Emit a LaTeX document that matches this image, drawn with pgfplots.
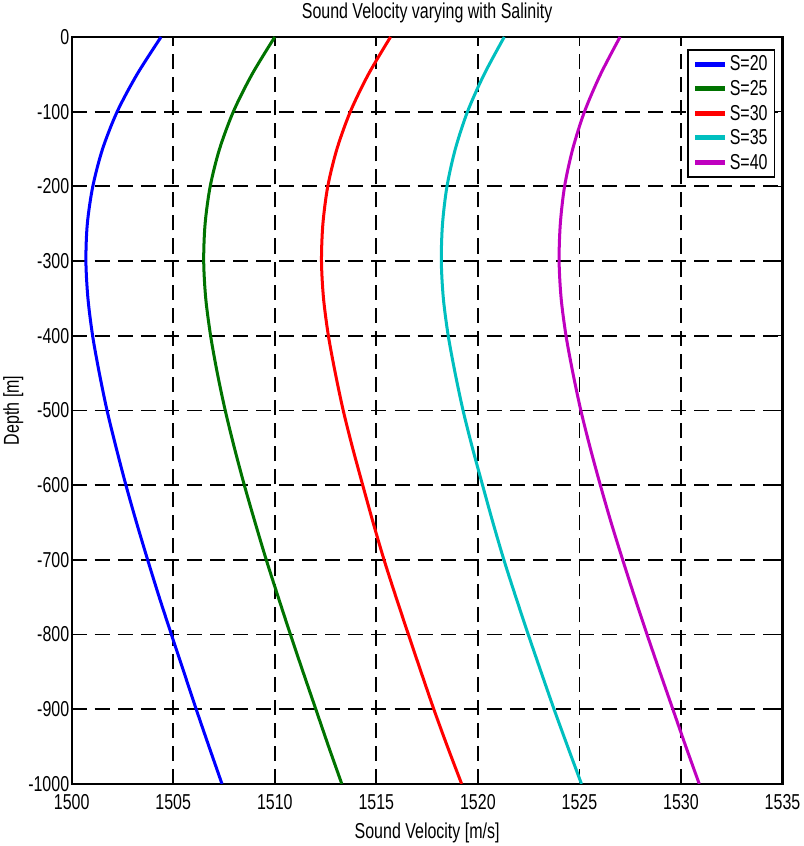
\documentclass[border=0pt]{standalone}
\usepackage{fontspec}
\setmainfont{Liberation Sans}
\usepackage{graphicx}
\usepackage{pgfplots}
\usepackage{pgfplotstable}
\pgfplotsset{compat=1.18}

% depth [m] and sound velocity [m/s] for each salinity
\pgfplotstableread{
depth s20 s25 s30 s35 s40
0 1504.40 1510.00 1515.70 1521.30 1527.00
-50 1503.22 1508.88 1514.61 1520.31 1526.04
-100 1502.24 1507.96 1513.72 1519.49 1525.25
-150 1501.52 1507.28 1513.06 1518.89 1524.67
-200 1501.04 1506.82 1512.61 1518.48 1524.27
-250 1500.77 1506.57 1512.37 1518.26 1524.06
-300 1500.70 1506.50 1512.30 1518.20 1524.00
-350 1500.80 1506.60 1512.40 1518.30 1524.10
-400 1501.03 1506.84 1512.64 1518.54 1524.34
-450 1501.36 1507.17 1512.98 1518.88 1524.68
-500 1501.74 1507.56 1513.37 1519.27 1525.07
-550 1502.19 1508.01 1513.83 1519.73 1525.53
-600 1502.67 1508.50 1514.33 1520.23 1526.03
-650 1503.19 1509.03 1514.84 1520.74 1526.56
-700 1503.74 1509.58 1515.38 1521.28 1527.13
-750 1504.31 1510.17 1515.97 1521.87 1527.72
-800 1504.91 1510.77 1516.58 1522.48 1528.33
-850 1505.52 1511.39 1517.20 1523.11 1528.96
-900 1506.13 1512.02 1517.83 1523.75 1529.60
-950 1506.76 1512.65 1518.50 1524.42 1530.24
-1000 1507.40 1513.30 1519.20 1525.10 1530.90
}\svp

\definecolor{mgreen}{rgb}{0,0.45,0}
\definecolor{mcyan}{rgb}{0,0.75,0.75}
\definecolor{mmag}{rgb}{0.75,0,0.75}
\newcommand{\st}[1]{\scalebox{1}[1.35]{#1}}

\begin{document}
\begin{tikzpicture}
\begin{axis}[
    width=709bp, height=745bp, scale only axis,
    xmin=1500, xmax=1535, ymin=-1000, ymax=0,
    xtick={1500,1505,...,1535},
    ytick={-1000,-900,...,0},
    /pgf/number format/1000 sep={},
    /pgf/number format/assume math mode=true,
    xticklabel={\st{\pgfmathprintnumber{\tick}}},
    yticklabel={\st{\pgfmathprintnumber{\tick}}},
    ticklabel style={font=\fontsize{16}{18}\selectfont},
    xticklabel style={yshift=-7bp},
    yticklabel style={xshift=1bp},
    grid=major,
    major grid style={black, line width=1.8bp, dash pattern=on 15bp off 8bp},
    axis line style={line width=2.2bp},
    tick style={black, line width=1.5bp},
    tick align=inside, major tick length=6bp,
    title={\st{Sound Velocity varying with Salinity}},
    title style={font=\fontsize{16}{18}\selectfont, yshift=4bp},
    xlabel={\st{Sound Velocity [m/s]}},
    xlabel style={yshift=-6bp},
    ylabel={\st{Depth [m]}},
    ylabel style={yshift=-2bp},
    label style={font=\fontsize{16}{18}\selectfont},
    legend cell align=left,
    legend style={at={(axis description cs:1,1)}, anchor=north east,
        xshift=-7bp, yshift=-12bp, draw=black, line width=1.8bp,
        font=\fontsize{16}{18}\selectfont, row sep=4bp,
        inner xsep=5bp, inner ysep=4bp},
    legend image code/.code={\draw[#1, line width=5bp] (0bp,0bp) -- (30bp,0bp);},
    every axis plot/.append style={line width=3bp, smooth},
]
\addplot[blue] table[x=s20, y=depth] {\svp};
\addplot[mgreen] table[x=s25, y=depth] {\svp};
\addplot[red] table[x=s30, y=depth] {\svp};
\addplot[mcyan] table[x=s35, y=depth] {\svp};
\addplot[mmag] table[x=s40, y=depth] {\svp};
\legend{\st{S=20},\st{S=25},\st{S=30},\st{S=35},\st{S=40}}
\end{axis}
\end{tikzpicture}
\end{document}
